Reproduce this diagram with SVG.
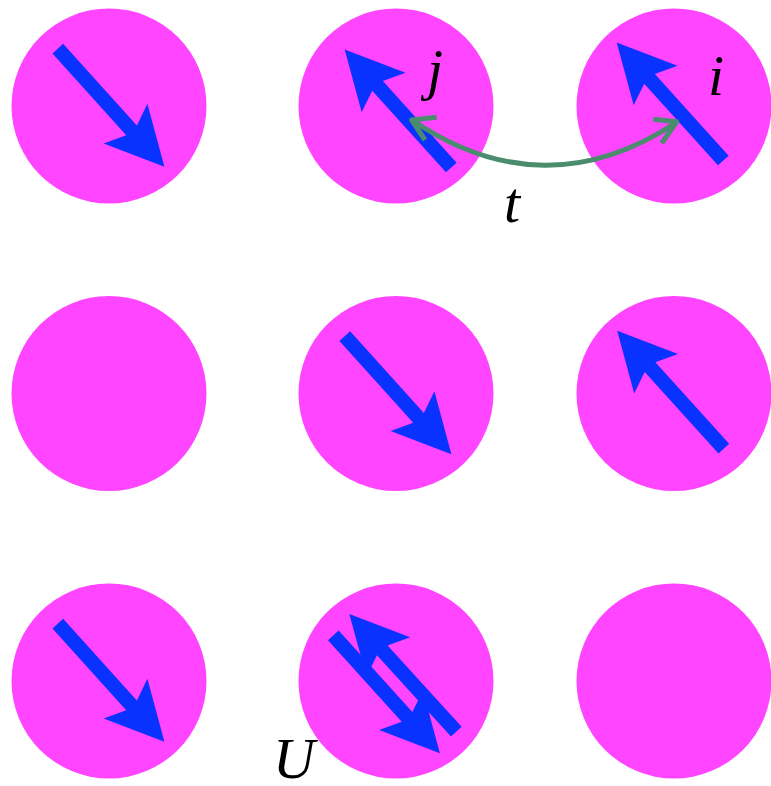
<svg xmlns="http://www.w3.org/2000/svg" xmlns:xlink="http://www.w3.org/1999/xlink" width="771" height="786" viewBox="0 0 771 786">
  <style>
    .site { fill: #ff45ff; }
    .spin { fill: #0a32ff; }
    .hop { fill: none; stroke: #4a8c6e; stroke-width: 5; stroke-linejoin: round; }
    .lbl { font-family: "Liberation Serif", "DejaVu Serif", serif; font-style: italic; font-size: 58px; fill: #000; text-anchor: middle; }
  </style>
  <defs>
    <polygon id="arrow" points="0,-7.2 110,-7.2 101,-29.5 159,0 101,29.5 110,7.2 0,7.2"/>
  </defs>
  <rect width="771" height="786" fill="#fff"/>

  <g id="site-1-1">
    <circle class="site" cx="109" cy="106" r="97.5"/>
    <use href="#arrow" class="spin" transform="translate(57.8,48.7) rotate(47.9)"/>
  </g>
  <g id="site-1-2">
    <circle class="site" cx="396" cy="106" r="97.5"/>
    <use href="#arrow" class="spin" transform="translate(451.3,167.5) rotate(227.9)"/>
  </g>
  <g id="site-1-3">
    <circle class="site" cx="674" cy="106" r="97.5"/>
    <use href="#arrow" class="spin" transform="translate(723.3,160.5) rotate(227.9)"/>
  </g>

  <g id="site-2-1">
    <circle class="site" cx="109" cy="393.5" r="97.5"/>
  </g>
  <g id="site-2-2">
    <circle class="site" cx="396" cy="393.5" r="97.5"/>
    <use href="#arrow" class="spin" transform="translate(344.8,336.2) rotate(47.9)"/>
  </g>
  <g id="site-2-3">
    <circle class="site" cx="674" cy="393.5" r="97.5"/>
    <use href="#arrow" class="spin" transform="translate(723.8,448.7) rotate(227.9)"/>
  </g>

  <g id="site-3-1">
    <circle class="site" cx="109" cy="681" r="97.5"/>
    <use href="#arrow" class="spin" transform="translate(57.8,623.7) rotate(47.9)"/>
  </g>
  <g id="site-3-2">
    <circle class="site" cx="396" cy="681" r="97.5"/>
    <use href="#arrow" class="spin" transform="translate(333.3,635.3) rotate(47.9)"/>
    <use href="#arrow" class="spin" transform="translate(456.3,731.7) rotate(227.7)"/>
  </g>
  <g id="site-3-3">
    <circle class="site" cx="674" cy="681" r="97.5"/>
  </g>

  <g id="connectors">
    <path class="hop" d="M412,120 C 500,180 590,180 677,122"/>
    <path class="hop" d="M436.7,117.3 L411.7,120 L425,140"/>
    <path class="hop" d="M653.3,119.3 L676.7,121.7 L661.7,143.3"/>
  </g>

  <g id="labels">
    <text class="lbl" x="435" y="89">j</text>
    <text class="lbl" x="716" y="94.5">i</text>
    <text class="lbl" x="512" y="221.5">t</text>
    <text class="lbl" x="294" y="778">U</text>
  </g>
</svg>
